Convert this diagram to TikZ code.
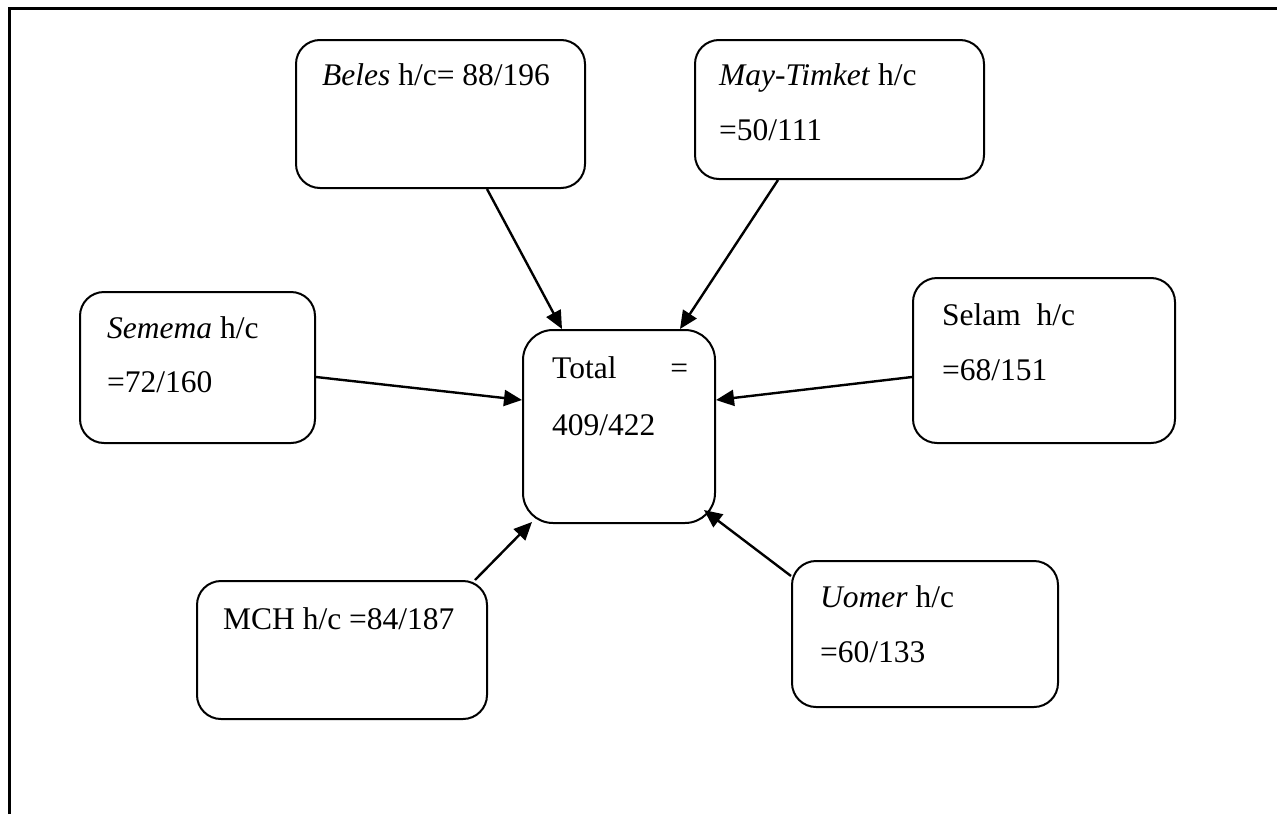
\documentclass[tikz,border=0pt]{standalone}
\usepackage{fontspec}
\setmainfont{Liberation Serif}
\usetikzlibrary{arrows.meta}
\begin{document}
\begin{tikzpicture}[x=1pt,y=-1pt,
  box/.style={draw, line width=2pt, rounded corners=24pt, inner sep=0pt},
  lbl/.style={anchor=base west, inner sep=0pt, font=\fontsize{31.5}{37}\selectfont},
  conn/.style={-{Triangle[length=18pt,width=16pt]}, line width=2.4pt}]
\useasboundingbox (0,0) rectangle (1277,814);
\draw[line width=3pt] (9,814) -- (9,8) -- (1277,8);
% boxes
\node[box, minimum width=289pt, minimum height=148pt] (beles) at (440.5,114) {};
\node[box, minimum width=289pt, minimum height=139pt] (may) at (839.5,109.5) {};
\node[box, minimum width=235pt, minimum height=151pt] (semema) at (197.5,367.5) {};
\node[box, minimum width=262pt, minimum height=165pt] (selam) at (1044,360.5) {};
\node[box, rounded corners=30pt, minimum width=192pt, minimum height=193pt] (total) at (619,426.5) {};
\node[box, minimum width=290pt, minimum height=138pt] (mch) at (342,650) {};
\node[box, minimum width=266pt, minimum height=146pt] (uomer) at (925,634) {};
% texts
\node[lbl] (tbeles) at (322,85) {\textit{Beles} h/c= 88/196};
\node[lbl] (tmay1) at (719,85) {\textit{May-Timket} h/c};
\node[lbl] (tmay2) at (719,140) {=50/111};
\node[lbl] (tsem1) at (107,338) {\textit{Semema} h/c};
\node[lbl] (tsem2) at (107,392) {=72/160};
\node[lbl] (tsel1) at (942,325) {Selam\ \ h/c};
\node[lbl] (tsel2) at (942,380) {=68/151};
\node[lbl] (ttot1) at (552,378) {\makebox[136pt][l]{Total\hfill=}};
\node[lbl] (ttot2) at (552,435) {409/422};
\node[lbl] (tmch) at (223,629) {MCH h/c =84/187};
\node[lbl] (tuom1) at (820,607) {\textit{Uomer} h/c};
\node[lbl] (tuom2) at (820,662) {=60/133};
% connectors
\draw[conn] ([xshift=46.5pt]beles.south) -- ([xshift=-57pt]total.north);
\draw[conn] ([xshift=-61.5pt]may.south) -- ([xshift=61pt]total.north);
\draw[conn] ([yshift=-9.5pt]semema.east) -- ([yshift=26.5pt]total.west);
\draw[conn] ([yshift=-16.5pt]selam.west) -- ([yshift=26.5pt]total.east);
\draw[conn] ([xshift=133pt]mch.north) -- ([xshift=10pt,yshift=2pt]total.south west);
\draw[conn] ([yshift=58pt]uomer.west) -- ([xshift=-12pt,yshift=14pt]total.south east);
\end{tikzpicture}
\end{document}
